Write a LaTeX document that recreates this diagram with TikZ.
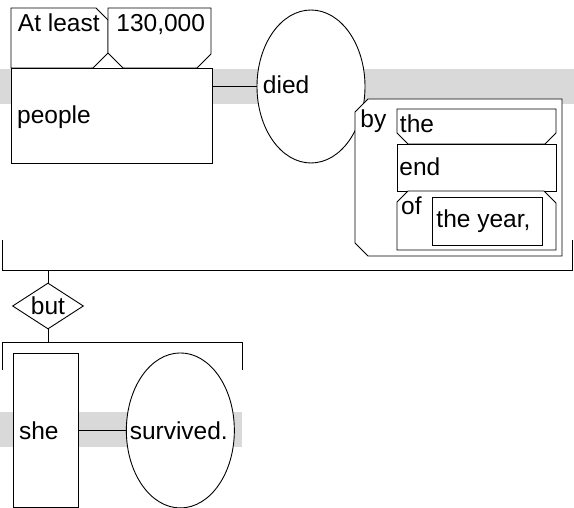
\documentclass[tikz,border=0pt]{standalone}
\usepackage{fontspec}
\setmainfont{Liberation Sans}
\usepackage{xcolor}
\usetikzlibrary{positioning, shapes.geometric}

\definecolor{bandgray}{HTML}{D9D9D9}

\begin{document}
\begin{tikzpicture}[
x=1pt, y=-1pt,
line width=0.9pt,
font=\fontsize{24.5pt}{28pt}\selectfont,
band/.style={fill=bandgray},
wordbox/.style={draw, fill=white, rectangle, inner sep=0pt, anchor=north west},
verb/.style={draw, fill=white, ellipse, inner sep=0pt, minimum width=108pt},
conj/.style={draw, fill=white, diamond, aspect=1.5, inner sep=0pt, minimum width=71pt, minimum height=46pt},
word/.style={anchor=base west, inner sep=0pt}
]
\useasboundingbox (0,0) rectangle (574,508);

% base lines
\fill[band] (0,69) rectangle (574,104);
\fill[band] (0,412) rectangle (242,447);

% first clause
\node[verb, minimum height=153pt] (died) at (311,86.5) {};
\node[wordbox, minimum width=201pt, minimum height=95pt] (people) at (11,68) {};
\draw[fill=white] (11,8) -- (96,8) -- (108,20) -- (108,53) -- (93,68) -- (11,68) -- cycle;
\draw[fill=white] (108,8) -- (211,8) -- (211,54) -- (197,68) -- (123,68) -- (108,53) -- cycle;
\draw (died.west) -- (died.west -| people.east);

% by the end of the year
\draw[fill=white] (368,99) -- (562,99) -- (562,256) -- (368,256) -- (355,243) -- (355,112) -- cycle;
\draw[fill=white] (397,109) -- (556,109) -- (556,133) -- (545,144) -- (408,144) -- (397,133) -- cycle;
\node[wordbox, minimum width=159pt, minimum height=47pt] (end) at (397,144) {};
\draw[fill=white] (408,191) -- (544,191) -- (556,203) -- (556,250) -- (397,250) -- (397,202) -- cycle;
\node[wordbox, minimum width=110pt, minimum height=48pt] (year) at (432,197) {};

% joining the clauses
\draw (2,240) -- (2,270) -- (572,270) -- (572,240);
\coordinate (bar1) at (48,270);
\node[conj] (but) at (48,306) {but};
\draw (bar1) -- (but.north);
\coordinate (bar2) at (48,342);
\draw (but.south) -- (bar2);
\draw (2,370) -- (2,342) -- (242,342) -- (242,370);

% second clause
\node[wordbox, minimum width=65pt, minimum height=154pt] (she) at (13,353) {};
\node[verb, minimum height=155pt, right=47pt of she] (survived) {};
\draw (she) -- (survived);

% words
\node[word] (w-atleast) at (17.5,32) {At least};
\node[word] (w-num) at (116,32) {130,000};
\node[word] (w-people) at (16.7,124) {people};
\node[word] (w-died) at (262.5,94) {died};
\node[word] (w-by) at (360,128) {by};
\node[word] (w-the) at (399.5,133) {the};
\node[word] (w-end) at (399,176) {end};
\node[word] (w-of) at (400.7,215) {of};
\node[word] (w-year) at (436,228) {the year,};
\node[word] (w-she) at (18.6,439) {she};
\node[word] (w-survived) at (129.3,439) {survived.};

\end{tikzpicture}
\end{document}
